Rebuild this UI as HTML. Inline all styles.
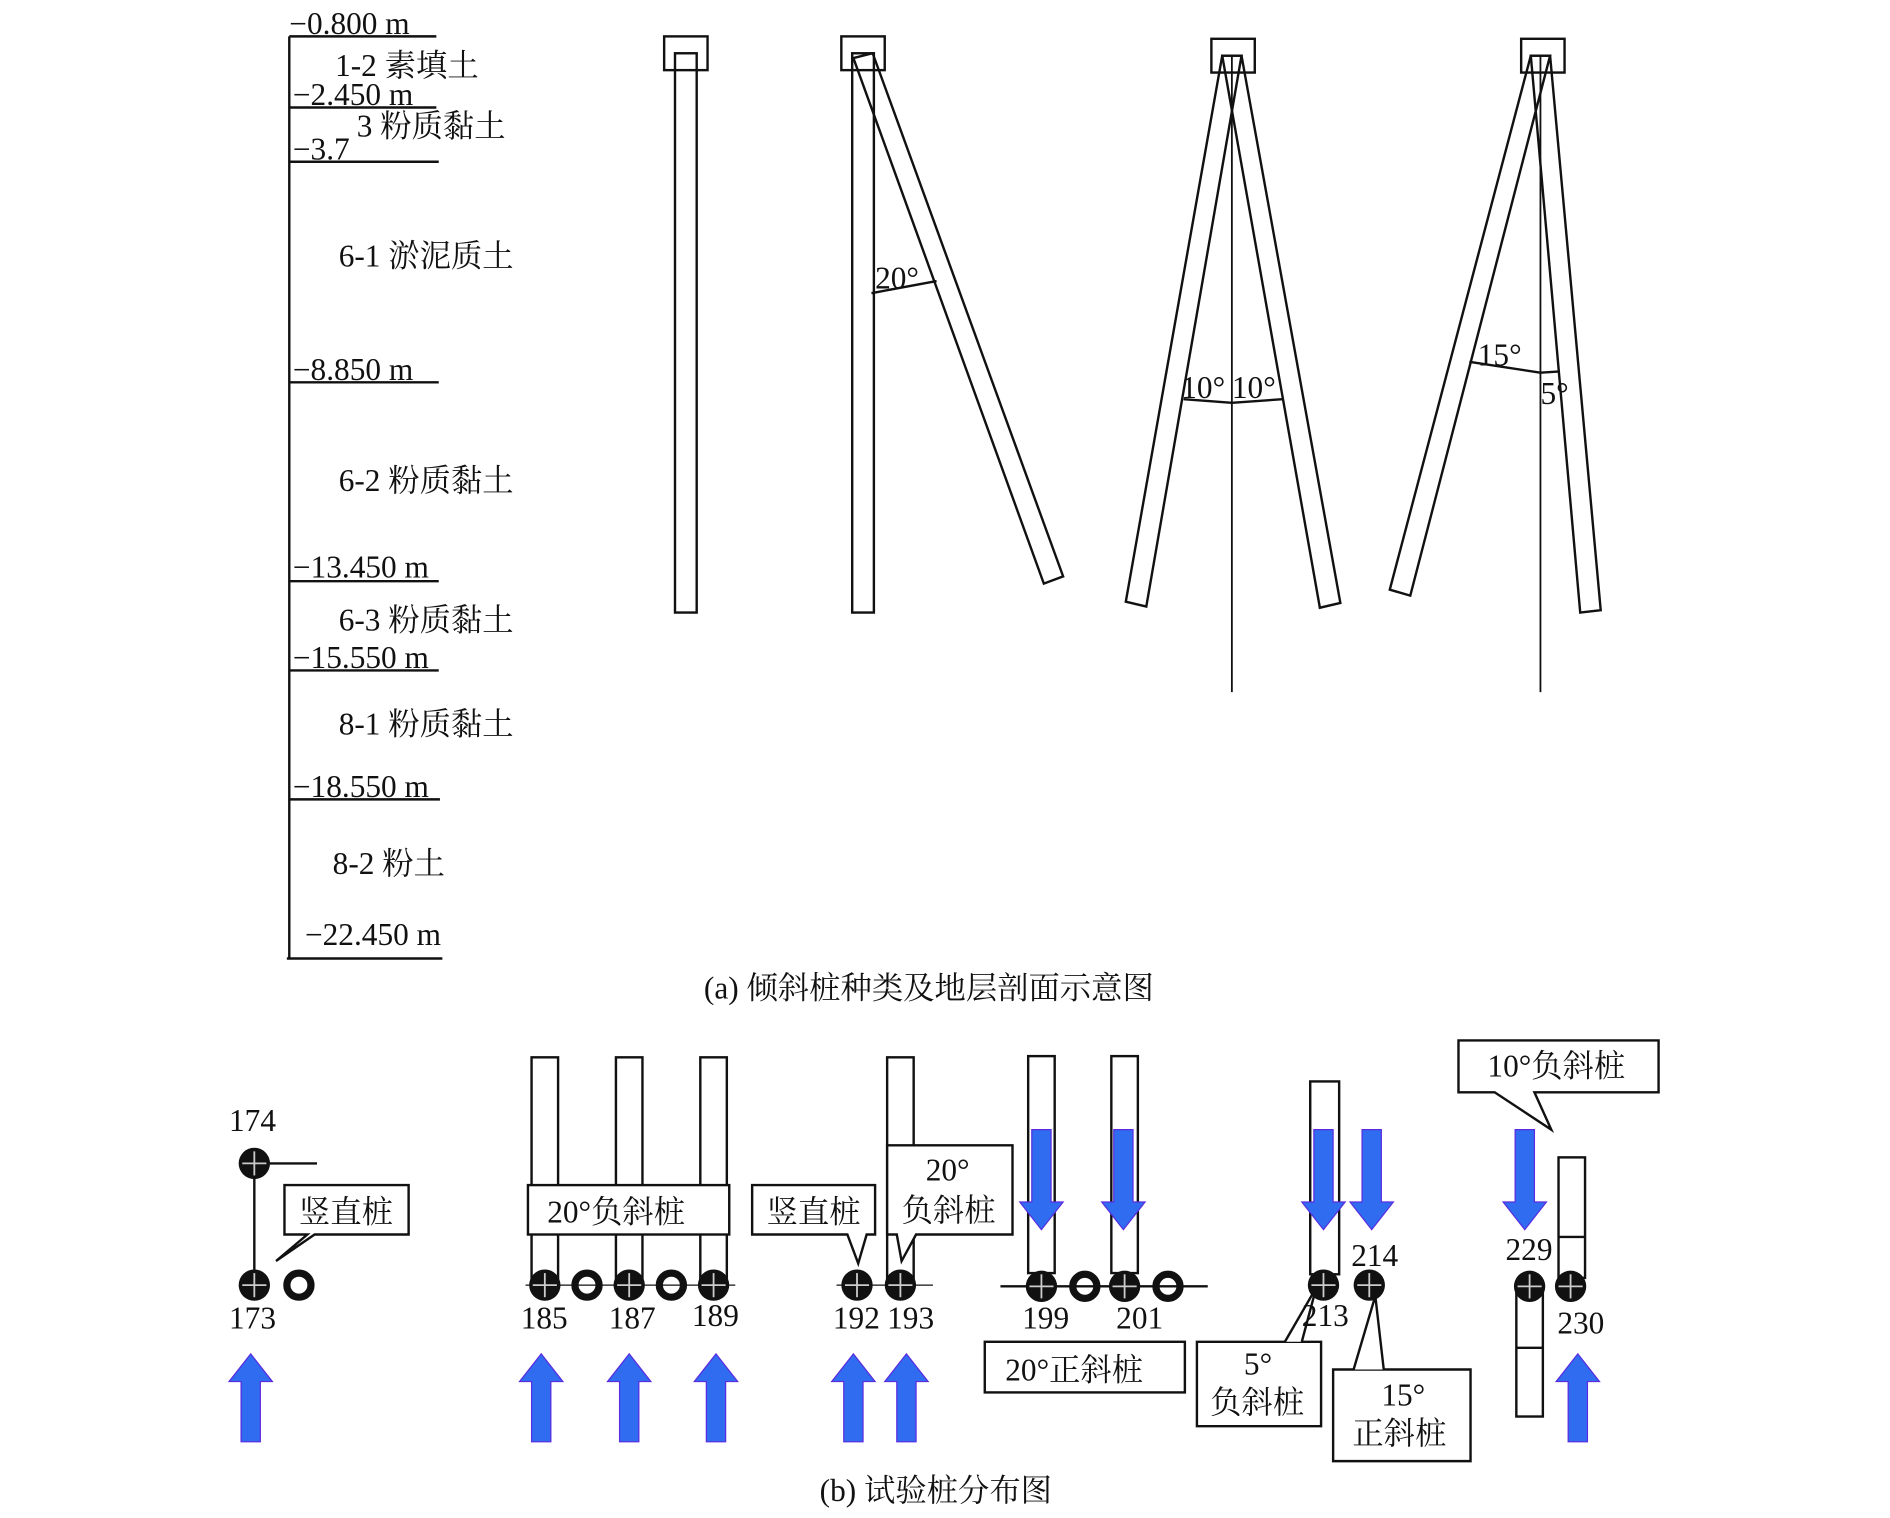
<!DOCTYPE html>
<html><head><meta charset="utf-8"><style>
html,body{margin:0;padding:0;background:#fff;}
svg{display:block;}
text{font-family:"Liberation Serif","Noto Serif CJK SC",serif;fill:#111;}
</style></head><body>
<svg width="1890" height="1518" viewBox="0 0 1568 1259" xmlns="http://www.w3.org/2000/svg">
<rect width="1568" height="1259" fill="#fff"/>
<g stroke="#111" stroke-width="2" fill="none">
<line x1="240" y1="30" x2="240" y2="795"/>
<line x1="240" y1="30" x2="362" y2="30"/>
<line x1="240" y1="89" x2="362" y2="89"/>
<line x1="240" y1="134" x2="364" y2="134"/>
<line x1="240" y1="317" x2="364" y2="317"/>
<line x1="240" y1="482" x2="364" y2="482"/>
<line x1="240" y1="556" x2="364" y2="556"/>
<line x1="240" y1="663" x2="365" y2="663"/>
<line x1="238" y1="795" x2="367" y2="795"/>
<rect x="560" y="44" width="18" height="464"/>
<rect x="551" y="30" width="36" height="28"/>
<rect x="707" y="44" width="18" height="464"/>
<polygon points="708,48 724,44 882,478 866,484"/>
<rect x="698" y="30" width="36" height="28"/>
<line x1="723" y1="243" x2="777" y2="233"/>
<polygon points="1014,46 1030,46 951,503 934,499"/>
<polygon points="1014,46 1030,46 1112,500 1095,504"/>
<line x1="1022" y1="45" x2="1022" y2="574" stroke-width="1.5"/>
<rect x="1005" y="32" width="36" height="28"/>
<line x1="982" y1="331" x2="1022" y2="334"/>
<line x1="1022" y1="334" x2="1064" y2="331"/>
<polygon points="1270,46 1286,46 1170,494 1153,489"/>
<polygon points="1270,46 1286,46 1328,506 1311,508"/>
<line x1="1278" y1="45" x2="1278" y2="574" stroke-width="1.5"/>
<rect x="1262" y="32" width="36" height="28"/>
<line x1="1219" y1="300" x2="1278" y2="309"/>
<line x1="1278" y1="309" x2="1294" y2="308"/>
</g>
<g font-size="26">
<text x="240" y="28">−0.800 m</text>
<text x="278" y="63">1-2 素填土</text>
<text x="243" y="87">−2.450 m</text>
<text x="296" y="113">3 粉质黏土</text>
<text x="243" y="132">−3.7</text>
<text x="281" y="221">6-1 淤泥质土</text>
<text x="243" y="315">−8.850 m</text>
<text x="281" y="407">6-2 粉质黏土</text>
<text x="243" y="479">−13.450 m</text>
<text x="281" y="523">6-3 粉质黏土</text>
<text x="243" y="554">−15.550 m</text>
<text x="281" y="609">8-1 粉质黏土</text>
<text x="243" y="661">−18.550 m</text>
<text x="276" y="725">8-2 粉土</text>
<text x="253" y="784">−22.450 m</text>
<text x="726" y="239">20°</text>
<text x="980" y="330">10°</text>
<text x="1022" y="330">10°</text>
<text x="1226" y="303">15°</text>
<text x="1278" y="335">5°</text>
<text x="584" y="828">(a) 倾斜桩种类及地层剖面示意图</text>
<text x="680" y="1245">(b) 试验桩分布图</text>
</g>
<defs>
<g id="upA"><polygon points="-8,30 8,30 8,-20 18,-20 0,-43 -18,-20 -8,-20" fill="#2f6cf0" stroke="#5a2be0" stroke-width="1"/></g>
<g id="dnA"><polygon points="-8,-60 8,-60 8,0 18,0 0,23 -18,0 -8,0" fill="#2f6cf0" stroke="#5a2be0" stroke-width="1"/></g>
<g id="pin"><circle r="13" fill="#111"/><line x1="-10" y1="0" x2="10" y2="0" stroke="#ccc" stroke-width="1.5"/><line x1="0" y1="-10" x2="0" y2="10" stroke="#ccc" stroke-width="1.5"/></g>
<g id="ring"><circle r="10" fill="none" stroke="#111" stroke-width="6"/></g>
</defs>
<g stroke="#111" stroke-width="2" fill="#fff">
<line x1="211" y1="965" x2="211" y2="1066"/>
<line x1="211" y1="965" x2="263" y2="965"/>
<rect x="441" y="877" width="22" height="183"/>
<rect x="511" y="877" width="22" height="183"/>
<rect x="581" y="877" width="22" height="183"/>
<rect x="736" y="877" width="22" height="183"/>
<rect x="853" y="876" width="22" height="180"/>
<rect x="922" y="876" width="22" height="180"/>
<rect x="1087" y="897" width="24" height="160"/>
<rect x="1293" y="960" width="22" height="100"/>
<line x1="1293" y1="1026" x2="1315" y2="1026"/>
<rect x="1258" y="1070" width="22" height="105"/>
<line x1="1258" y1="1118" x2="1280" y2="1118"/>
<line x1="830" y1="1067" x2="1002" y2="1067"/>
<line x1="436" y1="1066" x2="610" y2="1066" stroke-width="1"/>
<line x1="694" y1="1066" x2="774" y2="1066" stroke-width="1"/>
<path d="M236,983 H339 V1024 H261 L229,1046 L255,1024 H236 Z"/>
<rect x="438" y="983" width="167" height="41"/>
<path d="M624,983 H726 V1024 H719 L712,1048 L703,1024 H624 Z"/>
<path d="M736,950 H840 V1024 H760 L748,1046 L744,1024 H736 Z"/>
<rect x="817" y="1113" width="166" height="42"/>
<path d="M993,1113 H1096 V1183 H993 Z"/>
<path d="M1066,1113 L1092,1068 L1080,1113" />
<path d="M1106,1136 H1220 V1212 H1106 Z"/>
<path d="M1123,1136 L1141,1075 L1148,1136"/>
<path d="M1210,863 H1376 V906 H1273 L1287,937 L1240,906 H1210 Z"/>
</g>
<g>
<use href="#pin" x="211" y="965"/>
<use href="#pin" x="211" y="1066"/>
<use href="#ring" x="248" y="1066"/>
<use href="#pin" x="452" y="1066"/>
<use href="#ring" x="487" y="1066"/>
<use href="#pin" x="522" y="1066"/>
<use href="#ring" x="557" y="1066"/>
<use href="#pin" x="592" y="1066"/>
<use href="#pin" x="711" y="1066"/>
<use href="#pin" x="747" y="1066"/>
<use href="#pin" x="864" y="1067"/>
<use href="#ring" x="900" y="1067"/>
<use href="#pin" x="933" y="1067"/>
<use href="#ring" x="969" y="1067"/>
<use href="#pin" x="1098" y="1066"/>
<use href="#pin" x="1136" y="1066"/>
<use href="#pin" x="1269" y="1067"/>
<use href="#pin" x="1303" y="1067"/>
<use href="#upA" x="208" y="1166"/>
<use href="#upA" x="449" y="1166"/>
<use href="#upA" x="522" y="1166"/>
<use href="#upA" x="594" y="1166"/>
<use href="#upA" x="708" y="1166"/>
<use href="#upA" x="752" y="1166"/>
<use href="#upA" x="1309" y="1166"/>
<use href="#dnA" x="864" y="997"/>
<use href="#dnA" x="932" y="997"/>
<use href="#dnA" x="1098" y="997"/>
<use href="#dnA" x="1138" y="997"/>
<use href="#dnA" x="1265" y="997"/>
</g>
<g font-size="26">
<text x="190" y="938">174</text>
<text x="190" y="1102">173</text>
<text x="248" y="1014">竖直桩</text>
<text x="454" y="1014">20°负斜桩</text>
<text x="432" y="1102">185</text>
<text x="505" y="1102">187</text>
<text x="574" y="1100">189</text>
<text x="636" y="1014">竖直桩</text>
<text x="691" y="1102">192</text>
<text x="736" y="1102">193</text>
<text x="768" y="979">20°</text>
<text x="748" y="1013">负斜桩</text>
<text x="848" y="1102">199</text>
<text x="926" y="1102">201</text>
<text x="834" y="1145">20°正斜桩</text>
<text x="1080" y="1100">213</text>
<text x="1121" y="1050">214</text>
<text x="1032" y="1140">5°</text>
<text x="1004" y="1172">负斜桩</text>
<text x="1146" y="1166">15°</text>
<text x="1122" y="1198">正斜桩</text>
<text x="1249" y="1045">229</text>
<text x="1292" y="1106">230</text>
<text x="1234" y="893">10°负斜桩</text>
</g>
</svg>
</body></html>
